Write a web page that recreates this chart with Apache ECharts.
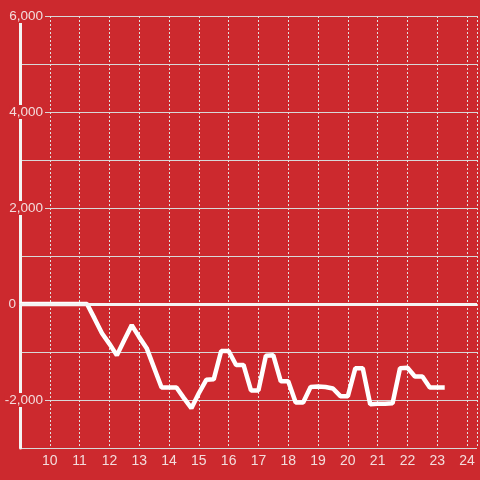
<!DOCTYPE html>
<html>
<head>
<meta charset="utf-8">
<script src="https://cdn.jsdelivr.net/npm/echarts@6/dist/echarts.min.js"></script>
<style>
  html, body { margin: 0; padding: 0; background: #cc292e; }
  #chart { width: 480px; height: 480px; }
</style>
</head>
<body>
<div id="chart"></div>
<script>
// hours (quarter steps) and values
var hours = [9, 9.25, 9.5, 9.75, 10, 10.25, 10.5, 10.75, 11, 11.25,
    11.5, 11.75, 12, 12.25, 12.5, 12.75, 13, 13.25, 13.5, 13.75,
    14, 14.25, 14.5, 14.75, 15, 15.25, 15.5, 15.75, 16, 16.25,
    16.5, 16.75, 17, 17.25, 17.5, 17.75, 18, 18.25, 18.5, 18.75,
    19, 19.25, 19.5, 19.75, 20, 20.25, 20.5, 20.75, 21, 21.25,
    21.5, 21.75, 22, 22.25, 22.5, 22.75, 23, 23.25];
var values = [0, 0, 0, 0, 0, 0, 0, 0, 0, 0,
    -300, -610, -830, -1070, -750, -440, -690, -920, -1330, -1740,
    -1740, -1740, -1960, -2170, -1860, -1580, -1570, -980, -980, -1270,
    -1270, -1800, -1800, -1080, -1070, -1610, -1610, -2050, -2050, -1730,
    -1720, -1730, -1760, -1920, -1920, -1340, -1340, -2090, -2080, -2080,
    -2070, -1340, -1330, -1510, -1510, -1740, -1740, -1740];
var yMin = -3000, yMax = 6000, yStep = 1000;
var xMin = 9, xMax = 24.3333, xStep = 1;

var red = '#cc292e';
var labelColor = '#f3dcdc';
var font = 'Liberation Sans, Arial, sans-serif';

var myChart = echarts.init(document.getElementById('chart'));
var lineData = [];
for (var i = 0; i < hours.length; i++) {
    lineData.push([hours[i], values[i]]);
}

var option = {
    backgroundColor: red,
    animation: false,
    grid: { left: 20, right: 0, top: 16, bottom: 32 },
    xAxis: {
        type: 'value',
        min: xMin,
        max: xMax,
        interval: xStep,
        axisLine: { show: true, lineStyle: { color: '#d8d8d8', width: 1 } },
        axisTick: { show: false },
        axisLabel: {
            color: labelColor,
            fontSize: 14,
            fontFamily: font,
            margin: 6,
            formatter: function (v) {
                return (v >= 10 && Math.abs(v - Math.round(v)) < 1e-6) ? String(v) : '';
            }
        },
        splitLine: { show: true, lineStyle: { color: '#e0e0e0', width: 1, type: [2, 2] } }
    },
    yAxis: {
        type: 'value',
        min: yMin,
        max: yMax,
        interval: yStep,
        axisLine: { show: true, lineStyle: { color: '#f4f4f4', width: 3 } },
        axisTick: { show: false },
        axisLabel: {
            margin: -25,
            formatter: function (v) {
                if (v === yMin || v % 2000 !== 0) return '';
                if (v === 0) return '{z|0}';
                return '{a|' + v.toLocaleString('en-US') + '}';
            },
            rich: {
                a: {
                    color: labelColor,
                    fontSize: 13.5,
                    fontFamily: font,
                    lineHeight: 16,
                    backgroundColor: red,
                    padding: [0, 2, 0, 0]
                },
                z: {
                    color: labelColor,
                    fontSize: 13.5,
                    fontFamily: font,
                    lineHeight: 16,
                    padding: [0, 29, 0, 0]
                }
            }
        },
        splitLine: { show: true, lineStyle: { color: '#d8d8d8', width: 1 } }
    },
    series: [{
        type: 'line',
        data: lineData,
        showSymbol: false,
        symbol: 'none',
        lineStyle: { color: '#ffffff', width: 4.5 },
        markLine: {
            silent: true,
            symbol: 'none',
            label: { show: false },
            lineStyle: { color: '#f4f4f4', width: 3, type: 'solid' },
            data: [{ yAxis: 0 }]
        }
    }]
};
myChart.setOption(option);
</script>
</body>
</html>
